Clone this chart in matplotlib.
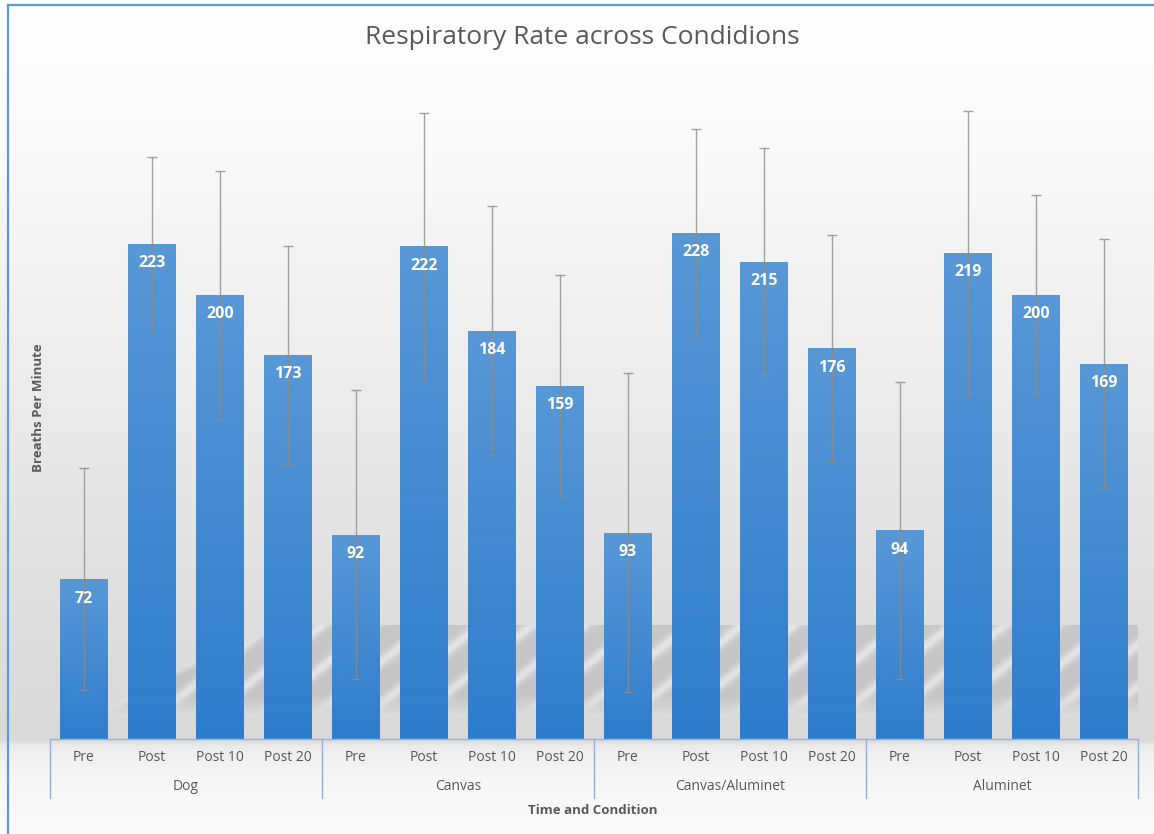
import matplotlib.pyplot as plt
import numpy as np
from matplotlib.colors import LinearSegmentedColormap
import matplotlib.transforms as mtransforms

plt.rcParams['font.family'] = ['Open Sans', 'DejaVu Sans']

conditions = ['Dog', 'Canvas', 'Canvas/Aluminet', 'Aluminet']
times = ['Pre', 'Post', 'Post 10', 'Post 20']
values = [72, 223, 200, 173, 92, 222, 184, 159, 93, 228, 215, 176, 94, 219, 200, 169]
errors = [50, 39, 56, 49, 65, 60, 56, 50, 72, 47, 51, 51, 67, 64, 45, 56]

W, H = 1154, 834
fig = plt.figure(figsize=(W / 100, H / 100), dpi=100)

# background: vertical grey gradient plus the diagonal "reflection" band
yy, xx = np.mgrid[0:H, 0:W].astype(float)
grey = np.interp(yy, [0, 100, 300, 500, 620, 739, 746, 775, 834],
                 [255, 252, 241, 229, 222, 217, 236, 246, 251])
band = ((yy > 624) & (yy < 714) & (xx > 100) & (xx < 1138)).astype(float)
band *= np.clip((yy - (705 - (xx - 100) * 0.45)) / 6, 0, 1)
band *= np.clip((714 - yy) / 20, 0, 1)
wave = 0.5 + 0.5 * np.cos(2 * np.pi * (yy + 0.8 * xx) / 42)
grey = grey - band * (22 - 30 * (wave ** 4))
img = np.repeat((np.clip(grey, 0, 255) / 255)[:, :, None], 3, axis=2)
bg = fig.add_axes([0, 0, 1, 1], zorder=-5)
bg.imshow(img, aspect='auto', extent=[0, W, H, 0], interpolation='bilinear')
bg.set_xlim(0, W)
bg.set_ylim(H, 0)
bg.axis('off')
# blue frame (top and left edges)
bg.plot([7.5, W], [4.5, 4.5], color='#5b9bd5', lw=1.6)
bg.plot([7.5, 7.5], [4.5, H], color='#5b9bd5', lw=1.6)

ax = fig.add_axes([50 / W, 95 / H, 1088 / W, 666 / H])
ax.set_facecolor('none')
x = np.arange(len(values))
bars = ax.bar(x, values, width=0.7, color='#3f88d0', zorder=2)

cm = LinearSegmentedColormap.from_list('blu', ['#2f7dcd', '#5898d6'])
grad = np.linspace(0, 1, 256).reshape(-1, 1)
for b in bars:
    im = ax.imshow(grad, cmap=cm, origin='lower', aspect='auto', zorder=2.1,
                   extent=[b.get_x(), b.get_x() + b.get_width(), 0, b.get_height()])
    im.set_clip_path(b)

ax.errorbar(x, values, yerr=errors, fmt='none', ecolor='#8c8c8c', alpha=0.8,
            elinewidth=1, capsize=3.5, capthick=1, zorder=3)

for xi, v in zip(x, values):
    ax.annotate(str(v), (xi, v), xytext=(0, -14), textcoords='offset points',
                ha='center', va='center', color='white', fontsize=11.5,
                fontweight='bold', zorder=4)

ax.set_xlim(-0.5, len(values) - 0.5)
ax.set_ylim(0, 300)
ax.set_xticks([])
ax.set_yticks([])
for s in ['top', 'right', 'left']:
    ax.spines[s].set_visible(False)
ax.spines['bottom'].set_color('#8fb4dc')
ax.spines['bottom'].set_linewidth(1)

tr = mtransforms.blended_transform_factory(ax.transData, ax.transAxes)
for i, xi in enumerate(x):
    ax.text(xi, -0.0285, times[i % 4], transform=tr, ha='center', va='center',
            fontsize=10, color='#595959')
for g, name in enumerate(conditions):
    ax.text(g * 4 + 1.5, -0.072, name, transform=tr, ha='center', va='center',
            fontsize=10, color='#595959')
for g in range(len(conditions) + 1):
    ax.plot([g * 4 - 0.5, g * 4 - 0.5], [0, -0.0886], transform=tr,
            color='#8fb4dc', lw=1, clip_on=False)

fig.text(593 / W, 1 - 810 / H, 'Time and Condition', ha='center', va='center',
         fontsize=9.5, fontweight='bold', color='#595959')
fig.text(38 / W, 1 - 408 / H, 'Breaths Per Minute', ha='center', va='center',
         rotation=90, fontsize=9.5, fontweight='bold', color='#595959')
fig.text(582 / W, 1 - 37 / H, 'Respiratory Rate across Condidions', ha='center',
         va='center', fontsize=19, color='#595959')

fig.savefig('out.png', dpi=100)
